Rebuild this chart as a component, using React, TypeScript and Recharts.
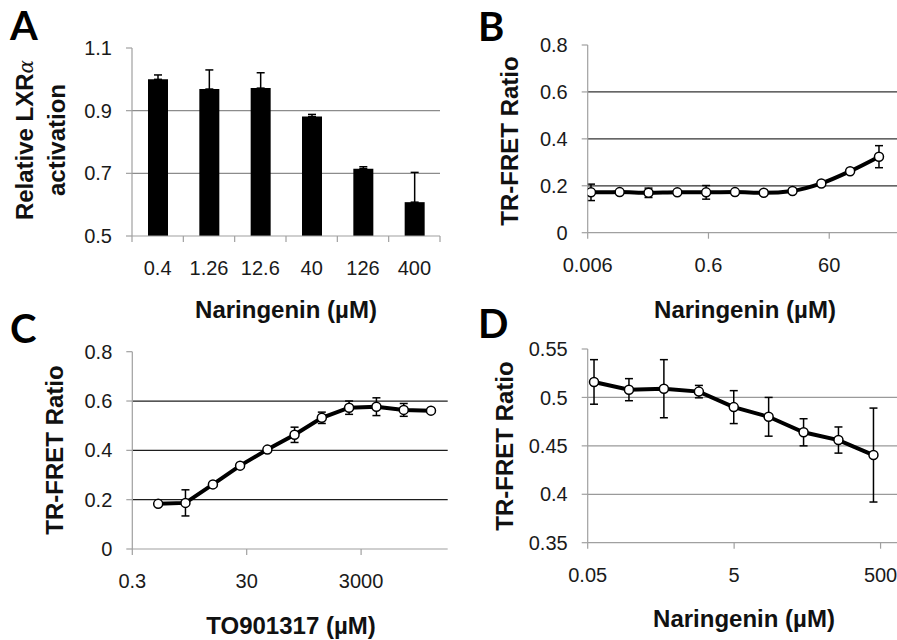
import React from 'react';
import { BarChart, Bar, LineChart, Line, XAxis, YAxis, CartesianGrid, ErrorBar } from 'recharts';

// ---------- Panel A ----------
const aDoseLabels = ['0.4', '1.26', '12.6', '40', '126', '400'];
const aActivation = [1.0, 0.969, 0.972, 0.881, 0.715, 0.608];
const aErrorUp = [0.014, 0.061, 0.049, 0.007, 0.006, 0.095];
const aYTicks = [0.5, 0.7, 0.9, 1.1];

// ---------- Panel B ----------
const bDoses = [0.0068, 0.0203, 0.061, 0.183, 0.549, 1.65, 4.94, 14.8, 44.4, 133, 400];
const bRatio = [0.172, 0.173, 0.17, 0.172, 0.172, 0.173, 0.17, 0.178, 0.21, 0.262, 0.324];
const bError = [0.035, 0.005, 0.02, 0.005, 0.029, 0.005, 0.01, 0.008, 0.006, 0.006, 0.047];
const bXTicks = [0.006, 0.6, 60];
const bYTicks = [0, 0.2, 0.4, 0.6, 0.8];

// ---------- Panel C ----------
const cDoses = [0.85, 2.55, 7.7, 23, 69, 206, 617, 1850, 5560, 16700, 50000];
const cRatio = [0.183, 0.187, 0.262, 0.338, 0.403, 0.463, 0.532, 0.573, 0.577, 0.564, 0.561];
const cError = [0.008, 0.053, 0.008, 0.008, 0.008, 0.031, 0.023, 0.027, 0.036, 0.026, 0.008];
const cXTicks = [0.3, 30, 3000];
const cYTicks = [0, 0.2, 0.4, 0.6, 0.8];

// ---------- Panel D ----------
const dDoses = [0.061, 0.183, 0.549, 1.65, 4.94, 14.8, 44.4, 133, 400];
const dRatio = [0.516, 0.508, 0.509, 0.506, 0.49, 0.48, 0.464, 0.456, 0.4405];
const dError = [0.023, 0.0114, 0.03, 0.0064, 0.017, 0.02, 0.014, 0.0135, 0.0485];
const dXTicks = [0.05, 5, 500];
const dYTicks = [0.35, 0.4, 0.45, 0.5, 0.55];

const aData = aDoseLabels.map((d, i) => ({ dose: d, value: aActivation[i], err: [0, aErrorUp[i]] }));
const bData = bDoses.map((d, i) => ({ dose: d, ratio: bRatio[i], err: bError[i] }));
const cData = cDoses.map((d, i) => ({ dose: d, ratio: cRatio[i], err: cError[i] }));
const dData = dDoses.map((d, i) => ({ dose: d, ratio: dRatio[i], err: dError[i] }));

const FONT = '"Liberation Sans", Arial, Helvetica, sans-serif';
const FRAME = '#a0a0a0';
const TICK_SIZE = 6;
const X_TICK_MARGIN = 19;
const Y_TICK_MARGIN = 14;
const tickStyle = { fontSize: 20, fill: '#1a1a1a', fontFamily: FONT };

const ATick = (props: any) => {
  const { x, y, payload, index, visibleTicksCount, width } = props;
  const half = typeof payload?.offset === 'number' && payload.offset > 0 ? payload.offset : width / visibleTicksCount / 2;
  const axisY = y - TICK_SIZE - X_TICK_MARGIN;
  return (
    <g>
      <line x1={x - half} x2={x - half} y1={axisY} y2={axisY + TICK_SIZE} stroke={FRAME} strokeWidth={1.2} />
      {index === visibleTicksCount - 1 && (
        <line x1={x + half} x2={x + half} y1={axisY} y2={axisY + TICK_SIZE} stroke={FRAME} strokeWidth={1.2} />
      )}
      <text x={x} y={y} dy="0.71em" textAnchor="middle" style={tickStyle}>
        {payload.value}
      </text>
    </g>
  );
};

const yAxisCommon = {
  axisLine: { stroke: FRAME, strokeWidth: 1.2 },
  tickLine: { stroke: FRAME, strokeWidth: 1.2 },
  tickSize: TICK_SIZE,
  tickMargin: Y_TICK_MARGIN,
  tick: tickStyle,
  interval: 0 as const,
};

const xLogCommon = {
  dataKey: 'dose',
  type: 'number' as const,
  scale: 'log' as const,
  allowDataOverflow: true,
  axisLine: { stroke: FRAME, strokeWidth: 1.2 },
  tickLine: { stroke: FRAME, strokeWidth: 1.2 },
  tickSize: TICK_SIZE,
  tickMargin: X_TICK_MARGIN,
  tick: tickStyle,
  interval: 0 as const,
  tickFormatter: (v: number) => String(v),
};

const lineProps = {
  dataKey: 'ratio',
  stroke: '#000',
  strokeWidth: 4,
  dot: { r: 4.5, fill: '#fff', stroke: '#000', strokeWidth: 1.5 },
  activeDot: false as const,
  isAnimationActive: false,
};

export default function App() {
  return (
    <div
      style={{
        position: 'absolute',
        left: 0,
        top: 0,
        width: 897,
        height: 640,
        overflow: 'hidden',
        background: '#fff',
        fontFamily: FONT,
      }}
    >
      {/* Panel A */}
      <div style={{ position: 'absolute', left: 0, top: 0 }}>
        <BarChart width={450} height={320} data={aData} margin={{ top: 48, right: 10, bottom: 0, left: 0 }}>
          <CartesianGrid vertical={false} horizontalValues={[0.7, 0.9]} stroke="#8c8c8c" strokeWidth={1.2} />
          <XAxis
            dataKey="dose"
            height={84}
            axisLine={{ stroke: FRAME, strokeWidth: 1.2 }}
            tickLine={false}
            tickSize={TICK_SIZE}
            tickMargin={X_TICK_MARGIN}
            tick={<ATick />}
            interval={0}
          />
          <XAxis xAxisId="frame" orientation="top" height={0} tick={false} tickLine={false} axisLine={{ stroke: FRAME, strokeWidth: 1.2 }} />
          <YAxis domain={[0.5, 1.1]} ticks={aYTicks} width={132} {...yAxisCommon} />
          <YAxis yAxisId="frame" orientation="right" width={0} tick={false} tickLine={false} axisLine={{ stroke: FRAME, strokeWidth: 1.2 }} />
          <Bar dataKey="value" fill="#000" barSize={20} isAnimationActive={false}>
            <ErrorBar dataKey="err" width={4} stroke="#000" strokeWidth={1.5} direction="y" />
          </Bar>
        </BarChart>
      </div>

      {/* Panel B */}
      <div style={{ position: 'absolute', left: 450, top: 0 }}>
        <LineChart width={505} height={320} data={bData} margin={{ top: 45, right: 5, bottom: 0, left: 0 }}>
          <CartesianGrid vertical={false} horizontalValues={[0.2, 0.4, 0.6]} stroke="#333" strokeWidth={1.3} />
          <XAxis {...xLogCommon} domain={[0.006, 6000]} ticks={bXTicks} height={87.3} />
          <XAxis xAxisId="frame" orientation="top" type="number" domain={[0, 1]} height={0} tick={false} tickLine={false} axisLine={{ stroke: FRAME, strokeWidth: 1.2 }} />
          <YAxis domain={[0, 0.8]} ticks={bYTicks} width={137.7} {...yAxisCommon} />
          <Line {...lineProps} type="monotone">
            <ErrorBar dataKey="err" width={4} stroke="#000" strokeWidth={1.5} direction="y" />
          </Line>
        </LineChart>
      </div>

      {/* Panel C */}
      <div style={{ position: 'absolute', left: 0, top: 320 }}>
        <LineChart width={450} height={320} data={cData} margin={{ top: 31.7, right: 2.3, bottom: 0, left: 0 }}>
          <CartesianGrid vertical={false} horizontalValues={[0.2, 0.4, 0.6]} stroke="#1e1e1e" strokeWidth={1.3} />
          <XAxis {...xLogCommon} domain={[0.3, 98000]} ticks={cXTicks} height={91} />
          <XAxis xAxisId="frame" orientation="top" type="number" domain={[0, 1]} height={0} tick={false} tickLine={false} axisLine={{ stroke: FRAME, strokeWidth: 1.2 }} />
          <YAxis domain={[0, 0.8]} ticks={cYTicks} width={132.3} {...yAxisCommon} />
          <YAxis yAxisId="frame" orientation="right" width={0} tick={false} tickLine={false} axisLine={{ stroke: FRAME, strokeWidth: 1.2 }} />
          <Line {...lineProps} type="linear">
            <ErrorBar dataKey="err" width={4} stroke="#000" strokeWidth={1.5} direction="y" />
          </Line>
        </LineChart>
      </div>

      {/* Panel D */}
      <div style={{ position: 'absolute', left: 450, top: 320 }}>
        <LineChart width={582} height={320} data={dData} margin={{ top: 29, right: 5, bottom: 0, left: 0 }}>
          <CartesianGrid vertical={false} horizontalValues={[0.4, 0.45, 0.5]} stroke="#9a9a9a" strokeWidth={1.2} />
          <XAxis {...xLogCommon} domain={[0.05, 50000]} ticks={dXTicks} height={97.3} />
          <XAxis xAxisId="frame" orientation="top" type="number" domain={[0, 1]} height={0} tick={false} tickLine={false} axisLine={{ stroke: FRAME, strokeWidth: 1.2 }} />
          <YAxis domain={[0.35, 0.55]} ticks={dYTicks} width={137.7} {...yAxisCommon} />
          <Line {...lineProps} type="linear">
            <ErrorBar dataKey="err" width={4} stroke="#000" strokeWidth={1.5} direction="y" />
          </Line>
        </LineChart>
      </div>

      {/* Titles and panel letters */}
      <svg width={897} height={640} style={{ position: 'absolute', left: 0, top: 0, pointerEvents: 'none' }}>
        <g style={{ fontFamily: 'Lato, "Open Sans", sans-serif', fontWeight: 700, fontSize: 40 }} fill="#000">
          <text x={10} y={40}>A</text>
          <text x={478} y={41}>B</text>
          <text x={10} y={343}>C</text>
          <text x={478} y={338}>D</text>
        </g>
        <g style={{ fontFamily: FONT, fontWeight: 700, fontSize: 24 }} fill="#111" textAnchor="middle">
          <text transform="translate(33,140) rotate(-90)">
            Relative LXR<tspan style={{ fontStyle: 'italic', fontWeight: 400, fontFamily: '"DejaVu Serif", serif', fontSize: 20 }}>α</tspan>
          </text>
          <text transform="translate(65,140) rotate(-90)">activation</text>
          <text x={286} y={318}>Naringenin (µM)</text>

          <text transform="translate(518,141) rotate(-90)">TR-FRET Ratio</text>
          <text x={745} y={318}>Naringenin (µM)</text>

          <text transform="translate(63,450) rotate(-90)">TR-FRET Ratio</text>
          <text x={291} y={634}>TO901317 (µM)</text>

          <text transform="translate(513,446) rotate(-90)">TR-FRET Ratio</text>
          <text x={744} y={627}>Naringenin (µM)</text>
        </g>
      </svg>
    </div>
  );
}
